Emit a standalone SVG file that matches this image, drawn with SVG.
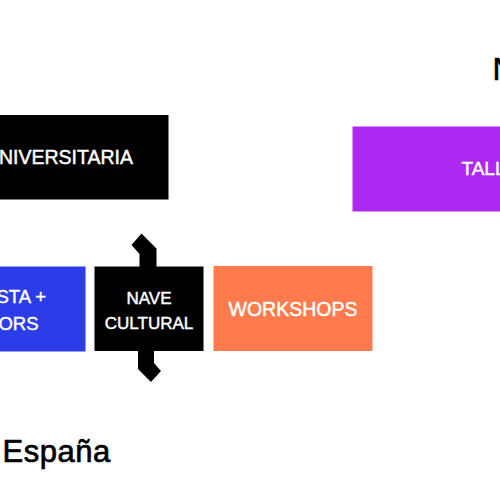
<svg xmlns="http://www.w3.org/2000/svg" width="500" height="500" viewBox="0 0 500 500">
<style>
  .lbl { font-family: "Liberation Sans", Arial, sans-serif; fill: #ffffff; stroke: #ffffff; stroke-width: 0.45; }
  .title { font-family: "Liberation Sans", Arial, sans-serif; fill: #000000; stroke: #000000; stroke-width: 0.7; }
  .conn { fill: #000000; stroke: none; }
</style>
<rect x="0" y="0" width="500" height="500" fill="#ffffff"/>

<text class="title" x="492.6" y="80" font-size="32">N</text>
<text class="title" x="2.6" y="461.7" font-size="31" letter-spacing="0.5">España</text>

<g id="node-universitaria">
  <rect x="-52" y="115" width="220.5" height="84.5" fill="#000000"/>
  <text class="lbl" x="133" y="163.5" font-size="19.5" text-anchor="end">UNIVERSITARIA</text>
</g>

<g id="node-talleres">
  <rect x="352.5" y="126.5" width="250" height="85" fill="#AD28F0"/>
  <text class="lbl" x="461.5" y="175" font-size="19">TALLERES</text>
</g>

<g id="node-artista">
  <rect x="-70" y="266.5" width="155.5" height="85" fill="#2B3CE8"/>
  <text class="lbl" x="46" y="302.5" font-size="18.5" text-anchor="end">ARTISTA +</text>
  <text class="lbl" x="38.5" y="330" font-size="18.5" text-anchor="end">CREATORS</text>
</g>

<g id="node-nave">
  <rect x="94.5" y="266.5" width="109" height="84.5" fill="#000000"/>
  <text class="lbl" x="149" y="304" font-size="17" text-anchor="middle">NAVE</text>
  <text class="lbl" x="149" y="329" font-size="17" text-anchor="middle">CULTURAL</text>
</g>

<g id="node-workshops">
  <rect x="213.5" y="266" width="159" height="85" fill="#FF7A4C"/>
  <text class="lbl" x="293" y="316" font-size="19.5" text-anchor="middle">WORKSHOPS</text>
</g>

<g id="connectors">
  <polygon class="conn" points="139.5,267.5 139.5,254 131.5,245 141.5,233.5 156.5,248.5 156.5,267.5"/>
  <polygon class="conn" points="138,350 138,369 151,382 161,371 154,363 154,350"/>
</g>
</svg>
